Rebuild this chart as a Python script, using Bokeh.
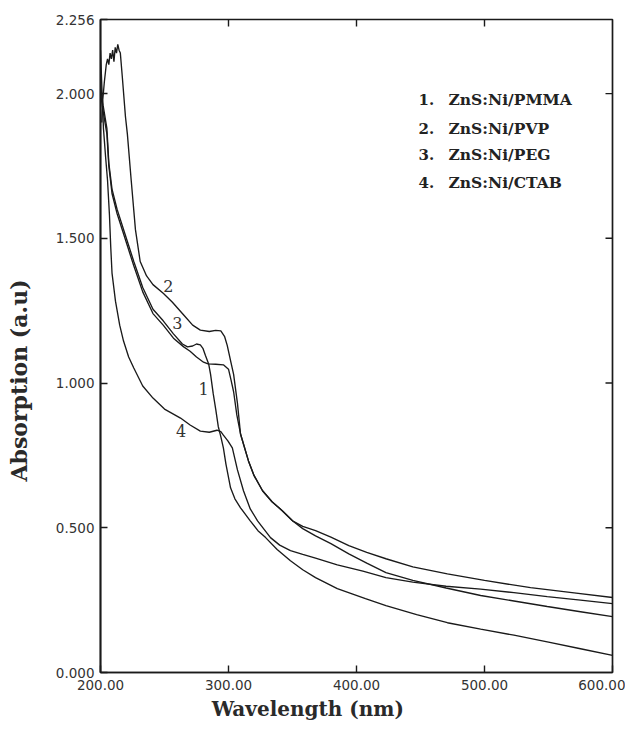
import math
from bokeh.plotting import figure
from bokeh.models import FixedTicker, NumeralTickFormatter, Label
from bokeh.embed import file_html
from bokeh.resources import INLINE

# ---------------- data ----------------
x_ticks = [200, 300, 400, 500, 600]
y_ticks = [0.0, 0.5, 1.0, 1.5, 2.0, 2.256]

# 1. ZnS:Ni/PMMA
wl_pmma = [200, 202, 205, 206.5, 209, 213, 219.5, 226, 233, 241, 249, 257, 264, 268,
           272, 275, 278, 280, 282, 284.5, 286, 288, 290, 292, 294, 296, 298, 301.6,
           305, 309.4, 317, 323, 329, 338, 348.4, 358, 368, 385, 407, 423, 447, 471,
           497, 523, 550, 575, 600]
abs_pmma = [2.03, 1.96, 1.88, 1.76, 1.67, 1.60, 1.51, 1.42, 1.33, 1.255, 1.215, 1.17,
            1.135, 1.125, 1.128, 1.135, 1.132, 1.12, 1.095, 1.066, 1.03, 0.965, 0.91,
            0.85, 0.815, 0.776, 0.72, 0.638, 0.60, 0.569, 0.524, 0.49, 0.466, 0.425,
            0.386, 0.355, 0.328, 0.29, 0.255, 0.231, 0.20, 0.172, 0.15, 0.129, 0.105,
            0.082, 0.059]

# 2. ZnS:Ni/PVP
wl_pvp = [201, 201.6, 203, 204.5, 205.5, 206.5, 207.5, 208.5, 209.5, 210.5, 211.5,
          212.5, 213.5, 214.5, 215.5, 217, 219.5, 221, 224, 227.3, 231, 236, 241, 249,
          256, 265, 272, 278, 285, 290, 294, 297, 299, 302, 304, 307, 309.4, 311, 315.6,
          320, 326.6, 334, 342, 350, 358, 368, 380, 394, 408, 423, 444, 471, 500, 536,
          570, 600]
abs_pvp = [1.90, 1.97, 2.04, 2.10, 2.12, 2.10, 2.14, 2.12, 2.15, 2.11, 2.16, 2.14, 2.17,
           2.15, 2.14, 2.06, 1.92, 1.86, 1.70, 1.53, 1.42, 1.37, 1.34, 1.31, 1.28, 1.235,
           1.20, 1.183, 1.178, 1.182, 1.18, 1.16, 1.13, 1.07, 1.03, 0.93, 0.824, 0.80,
           0.731, 0.68, 0.628, 0.59, 0.559, 0.524, 0.505, 0.49, 0.468, 0.438, 0.415,
           0.393, 0.365, 0.341, 0.318, 0.293, 0.275, 0.259]

# 3. ZnS:Ni/PEG
wl_peg = [200, 202, 205, 206.5, 209, 213, 219.5, 226, 233, 241, 249, 257, 265, 270,
          275, 280.5, 284, 290, 296, 300, 302, 304, 306.5, 309.4, 311, 315.6, 320, 326.6,
          334, 342, 350, 358, 368, 380, 394, 408, 423, 444, 470, 497, 523, 549, 575, 600]
abs_peg = [2.00, 1.94, 1.86, 1.75, 1.655, 1.585, 1.495, 1.405, 1.315, 1.24, 1.20, 1.155,
           1.125, 1.11, 1.09, 1.072, 1.066, 1.065, 1.063, 1.048, 1.01, 0.97, 0.89, 0.824,
           0.80, 0.731, 0.68, 0.628, 0.59, 0.559, 0.524, 0.497, 0.472, 0.445, 0.41,
           0.378, 0.345, 0.318, 0.292, 0.266, 0.247, 0.228, 0.21, 0.193]

# 4. ZnS:Ni/CTAB
wl_ctab = [200, 201, 202.3, 204, 205.5, 207, 208, 209, 211.7, 215, 218, 222, 226, 233,
           241, 250, 262.5, 270, 278, 285, 291, 294, 296, 299.5, 303, 307, 311.7, 317,
           322.7, 332.8, 340, 348.4, 358, 368, 385, 405, 423, 444, 470, 497, 523, 549,
           575, 600]
abs_ctab = [2.15, 2.03, 1.88, 1.78, 1.70, 1.58, 1.47, 1.38, 1.283, 1.20, 1.145, 1.09,
            1.052, 0.99, 0.948, 0.91, 0.879, 0.855, 0.834, 0.83, 0.837, 0.832, 0.82,
            0.80, 0.776, 0.70, 0.628, 0.565, 0.524, 0.466, 0.44, 0.421, 0.408, 0.395,
            0.372, 0.35, 0.328, 0.312, 0.298, 0.288, 0.276, 0.262, 0.25, 0.238]

legend_nums = ["1.", "2.", "3.", "4."]
legend_names = ["ZnS:Ni/PMMA", "ZnS:Ni/PVP", "ZnS:Ni/PEG", "ZnS:Ni/CTAB"]
legend_y = [1.979, 1.879, 1.790, 1.693]

curve_tags = ["1", "2", "3", "4"]
tag_x = [280.5, 253, 260, 263]
tag_y = [0.979, 1.334, 1.207, 0.834]

x_title = "Wavelength (nm)"
y_title = "Absorption (a.u)"

# ---------------- figure ----------------
INK = "#1a1a1a"
NBSP = "\u00a0"
p = figure(width=625, height=725, output_backend="svg", toolbar_location=None,
           x_range=(200, 600), y_range=(0, 2.256),
           min_border_left=100, min_border_right=13, min_border_top=19,
           min_border_bottom=53)
p.outline_line_color = INK
p.outline_line_width = 1.7
p.grid.visible = False
p.background_fill_color = "white"
p.border_fill_color = "white"

for wl, ab in [(wl_pmma, abs_pmma), (wl_pvp, abs_pvp), (wl_peg, abs_peg), (wl_ctab, abs_ctab)]:
    p.line(wl, ab, line_color=INK, line_width=1.35)

# inward ticks on the top and right edges (same ticks as bottom / left)
p.ray(x=x_ticks[1:-1], y=[y_ticks[-1]] * 3, length=7, length_units="screen",
      angle=-math.pi / 2, line_color=INK, line_width=1.4)
p.ray(x=[x_ticks[-1]] * 4, y=y_ticks[1:5], length=7, length_units="screen",
      angle=math.pi, line_color=INK, line_width=1.4)

def style_axis(ax):
    ax.axis_line_color = INK
    ax.axis_line_width = 1.7
    ax.major_tick_in = 7
    ax.major_tick_out = 0
    ax.major_tick_line_color = INK
    ax.major_tick_line_width = 1.4
    ax.minor_tick_line_color = None
    ax.major_label_text_font = "DejaVu Sans"
    ax.major_label_text_font_size = "13.5px"
    ax.major_label_text_color = "#333333"
    ax.axis_label_text_font = "DejaVu Serif"
    ax.axis_label_text_font_style = "bold"
    ax.axis_label_text_color = "#2a2a2a"

xa = p.xaxis[0]
xa.ticker = FixedTicker(ticks=x_ticks)
xa.formatter = NumeralTickFormatter(format="0.00")
style_axis(xa)
xa.major_label_standoff = 7
# trailing no-break spaces move the centred title left, as in the original
xa.axis_label = x_title + NBSP * 14
xa.axis_label_text_font_size = "20px"
xa.axis_label_standoff = 4

ya = p.yaxis[0]
ya.ticker = FixedTicker(ticks=y_ticks)
ya.formatter = NumeralTickFormatter(format="0.000")
style_axis(ya)
ya.major_label_standoff = 6
ya.axis_label = y_title + NBSP * 9
ya.axis_label_text_font_size = "22px"
ya.axis_label_standoff = 21

# legend text
for num, name, ly in zip(legend_nums, legend_names, legend_y):
    p.add_layout(Label(x=448.4, y=ly, text=num, text_align="left", text_baseline="middle",
                       text_font="DejaVu Serif", text_font_style="bold",
                       text_font_size="15px", text_color="#222222"))
    p.add_layout(Label(x=471.9, y=ly, text=name, text_align="left", text_baseline="middle",
                       text_font="DejaVu Serif", text_font_style="bold",
                       text_font_size="15.5px", text_color="#222222"))

# curve numbers
for t, tx, ty in zip(curve_tags, tag_x, tag_y):
    p.add_layout(Label(x=tx, y=ty, text=t, text_align="center", text_baseline="middle",
                       text_font="DejaVu Serif", text_font_size="16px",
                       text_color="#333333"))

open("out.html", "w").write(file_html(p, INLINE))
